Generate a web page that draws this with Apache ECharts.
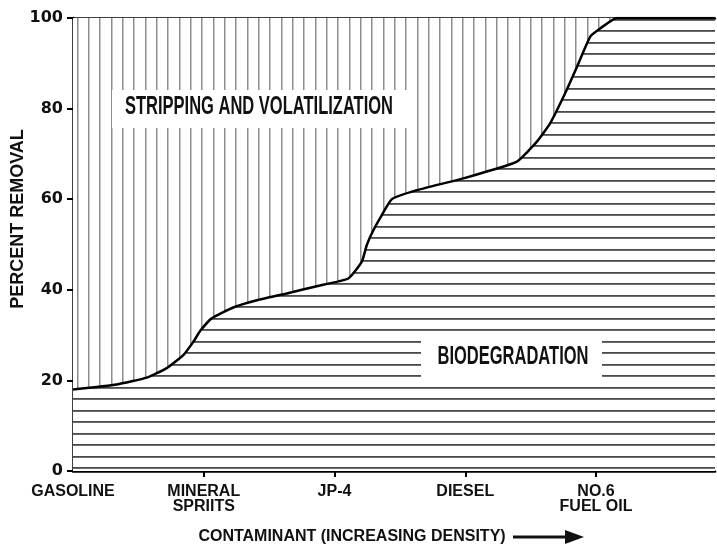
<!DOCTYPE html>
<html>
<head>
<meta charset="utf-8">
<script src="https://cdn.jsdelivr.net/npm/echarts@6/dist/echarts.min.js"></script>
<style>
html,body{margin:0;padding:0;background:#fff;}
#chart{width:717px;height:546px;}
</style>
</head>
<body>
<div id="chart"></div>
<script>
// ---- data ----
const categories = ['GASOLINE', 'MINERAL\nSPRIITS', 'JP-4', 'DIESEL', 'NO.6\nFUEL OIL'];
const categoryPositions = [0, 1, 2, 3, 4];
const yTickValues = [0, 20, 40, 60, 80, 100];
const densityX = [0, 0.334, 0.564, 0.717, 0.844, 0.920, 0.972, 1.061, 1.226, 1.406, 1.635, 1.865, 2.106, 2.209, 2.247, 2.298, 2.362, 2.438, 2.630, 2.986, 3.165, 3.395, 3.548, 3.650, 3.751, 3.854, 3.956, 4.032, 4.160, 4.91];
const percentRemoval = [18.0, 19.1, 20.6, 22.7, 25.6, 28.5, 30.9, 33.7, 36.1, 37.7, 39.2, 40.8, 42.5, 46.2, 49.9, 53.2, 56.5, 60.0, 62.0, 64.6, 66.1, 68.3, 72.7, 76.8, 82.6, 89.2, 95.9, 97.7, 100, 100];
const regionLabels = ['STRIPPING AND VOLATILIZATION', 'BIODEGRADATION'];
const xAxisTitle = 'CONTAMINANT (INCREASING DENSITY)';
const yAxisTitle = 'PERCENT REMOVAL';

// ---- hatch patterns ----
function hPattern() {
  const c = document.createElement('canvas');
  c.width = 8; c.height = 23;
  const g = c.getContext('2d');
  g.fillStyle = '#fff'; g.fillRect(0, 0, 8, 23);
  g.fillStyle = '#4a4a4a';
  g.fillRect(0, 7, 8, 1.8);
  g.fillRect(0, 19, 8, 1.8);
  return c;
}
function vPattern() {
  const c = document.createElement('canvas');
  c.width = 34; c.height = 8;
  const g = c.getContext('2d');
  g.fillStyle = '#fff'; g.fillRect(0, 0, 34, 8);
  g.fillStyle = '#8e8e8e';
  [9, 20, 31].forEach(x => g.fillRect(x, 0, 1.5, 8));
  return c;
}

const curve = densityX.map((x, i) => [x, percentRemoval[i]]);

const chart = echarts.init(document.getElementById('chart'), null, {renderer: 'canvas'});
const boldFont = 'Liberation Sans, Arial, sans-serif';

chart.setOption({
  animation: false,
  backgroundColor: '#fff',
  grid: {left: 73, top: 18, right: 2, bottom: 75, containLabel: false},
  xAxis: [{
    type: 'value', min: 0, max: 4.91, interval: 1,
    axisLine: {show: true, lineStyle: {color: '#000', width: 2.5}},
    axisTick: {show: true, length: 6, lineStyle: {color: '#000', width: 2}, customValues: categoryPositions.slice(1)},
    splitLine: {show: false},
    axisLabel: {
      customValues: categoryPositions,
      formatter: v => categories[Math.round(v)] || '',
      color: '#111', fontFamily: boldFont, fontWeight: 'bold', fontSize: 16,
      lineHeight: 15, margin: 13
    }
  }, {
    type: 'value', position: 'top', min: 0, max: 4.91,
    axisLine: {show: true, lineStyle: {color: '#000', width: 2.5}},
    axisTick: {show: false}, axisLabel: {show: false}, splitLine: {show: false}
  }],
  yAxis: {
    type: 'value', min: 0, max: 100, interval: 20,
    axisLine: {show: true, lineStyle: {color: '#000', width: 2.5}},
    axisTick: {show: true, length: 6, inside: false, lineStyle: {color: '#000', width: 2}},
    splitLine: {show: false},
    axisLabel: {
      customValues: yTickValues,
      color: '#111', fontFamily: 'DejaVu Sans, sans-serif', fontWeight: 'bold', fontSize: 16, margin: 10
    }
  },
  series: [{
    type: 'line', data: curve, showSymbol: false, z: 1, smooth: 0.15,
    lineStyle: {width: 0, opacity: 0},
    areaStyle: {origin: 'end', opacity: 1, color: {image: vPattern(), repeat: 'repeat'}}
  }, {
    type: 'line', data: curve, showSymbol: false, z: 2, smooth: 0.15,
    lineStyle: {color: '#000', width: 2.5},
    areaStyle: {origin: 'start', opacity: 1, color: {image: hPattern(), repeat: 'repeat'}}
  }],
  graphic: [
    {type: 'rect', z: 10, shape: {x: 112, y: 90, width: 296, height: 38}, style: {fill: '#fff'}},
    {type: 'text', z: 11, x: 259, y: 107, scaleX: 0.66,
     style: {text: regionLabels[0], font: 'bold 25px ' + boldFont, fill: '#111', textAlign: 'center', textVerticalAlign: 'middle'}},
    {type: 'rect', z: 10, shape: {x: 421, y: 331, width: 181, height: 52}, style: {fill: '#fff'}},
    {type: 'text', z: 11, x: 513, y: 357, scaleX: 0.66,
     style: {text: regionLabels[1], font: 'bold 25px ' + boldFont, fill: '#111', textAlign: 'center', textVerticalAlign: 'middle'}},
    {type: 'text', z: 11, x: 352, y: 537,
     style: {text: xAxisTitle, font: 'bold 16px ' + boldFont, fill: '#111', textAlign: 'center', textVerticalAlign: 'middle'}},
    {type: 'line', z: 11, shape: {x1: 513, y1: 537, x2: 570, y2: 537}, style: {stroke: '#111', lineWidth: 3}},
    {type: 'polygon', z: 11, shape: {points: [[565, 530], [584, 537], [565, 544]]}, style: {fill: '#111'}},
    {type: 'text', z: 11, x: 18, y: 219, rotation: Math.PI / 2,
     style: {text: yAxisTitle, font: 'bold 18px ' + boldFont, fill: '#111', textAlign: 'center', textVerticalAlign: 'middle'}}
  ]
});
</script>
</body>
</html>
